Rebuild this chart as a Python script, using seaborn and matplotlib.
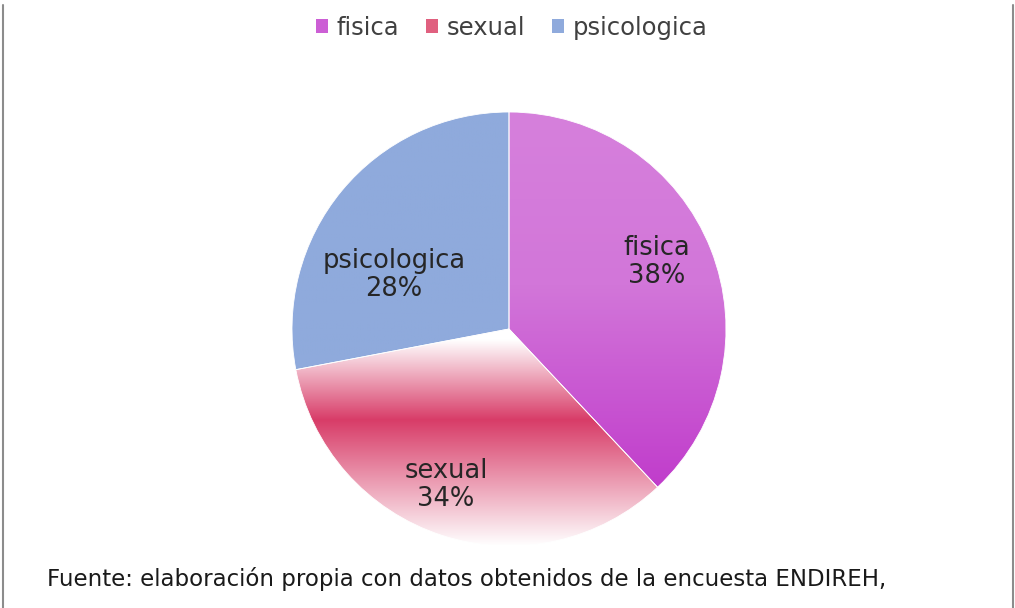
import numpy as np
import matplotlib
matplotlib.use("Agg")
import matplotlib.pyplot as plt
import matplotlib.colors as mcolors
from matplotlib.patches import Patch
import seaborn as sns

# ---- data ----
categories = ["fisica", "sexual", "psicologica"]
values = [38, 34, 28]
footer = "Fuente: elaboración propia con datos obtenidos de la encuesta ENDIREH,"

sns.set_theme(style="white")
plt.rcParams["font.family"] = ["DejaVu Sans"]

W, H = 1015, 608
fig = plt.figure(figsize=(W / 100, H / 100), dpi=100)
fig.patch.set_facecolor("white")

# frame lines at left/right edges
fig.add_artist(plt.Line2D([2.5 / W, 2.5 / W], [0, 1 - 5 / H], color="#8c8c8c", lw=1.5))
fig.add_artist(plt.Line2D([1012.5 / W, 1012.5 / W], [0, 1 - 5 / H], color="#8c8c8c", lw=1.5))

cx, cy, r = 509, 329, 217
ax = fig.add_axes([(cx - r) / W, 1 - (cy + r) / H, 2 * r / W, 2 * r / H])

base_colors = ["#cb5ad4", "#e06088", "#8faadc"]
wedges, _ = ax.pie(values, startangle=90, counterclock=False, colors=base_colors,
                   wedgeprops=dict(linewidth=0.6, edgecolor="white"))
ax.set_xlim(-1, 1)
ax.set_ylim(-1, 1)
ax.set_aspect("equal")
ax.axis("off")

# gradient fills (style only)
n = 400
yy = np.linspace(1, -1, n)  # image rows top->bottom


def grad_image(stops):
    ys = [s[0] for s in stops][::-1]
    cols = [mcolors.to_rgb(s[1]) for s in stops][::-1]
    img = np.zeros((n, 2, 3))
    for k in range(3):
        img[:, :, k] = np.interp(yy, ys, [c[k] for c in cols])[:, None]
    return img


gradients = [
    [(1.0, "#d680dc"), (0.2, "#d276d9"), (-0.75, "#c03bcb")],
    [(-0.05, "#ffffff"), (-0.42, "#d83c68"), (-1.0, "#ffffff")],
    [(1.0, "#8faadc"), (-1.0, "#8faadc")],
]
for w, g in zip(wedges, gradients):
    im = ax.imshow(grad_image(g), extent=[-1, 1, -1, 1], aspect="auto",
                   interpolation="bilinear", zorder=w.get_zorder() - 0.1)
    im.set_clip_path(w)
    w.set_facecolor("none")

# labels inside slices
label_pos = [(0.68, 0.31), (-0.29, -0.72), (-0.53, 0.25)]
total = sum(values)
for name, v, (lx, ly) in zip(categories, values, label_pos):
    ax.text(lx, ly, f"{name}\n{v / total * 100:.0f}%", ha="center", va="center",
            fontsize=18.5, color="#262626", linespacing=1.1, zorder=5)

# legend
handles = [Patch(facecolor=c, edgecolor="none") for c in ["#cc5fd5", "#e0607f", "#8faadc"]]
fig.legend(handles, categories, loc="center", bbox_to_anchor=(512 / W, 1 - 28 / H),
           ncol=3, frameon=False, fontsize=17.5, handlelength=0.5, handleheight=0.5,
           handletextpad=0.35, columnspacing=1.1, labelcolor="#404040")

fig.text(47 / W, 1 - 579 / H, footer, ha="left", va="center", fontsize=16.5, color="#1a1a1a")

fig.savefig("out.png", dpi=100, facecolor="white")
